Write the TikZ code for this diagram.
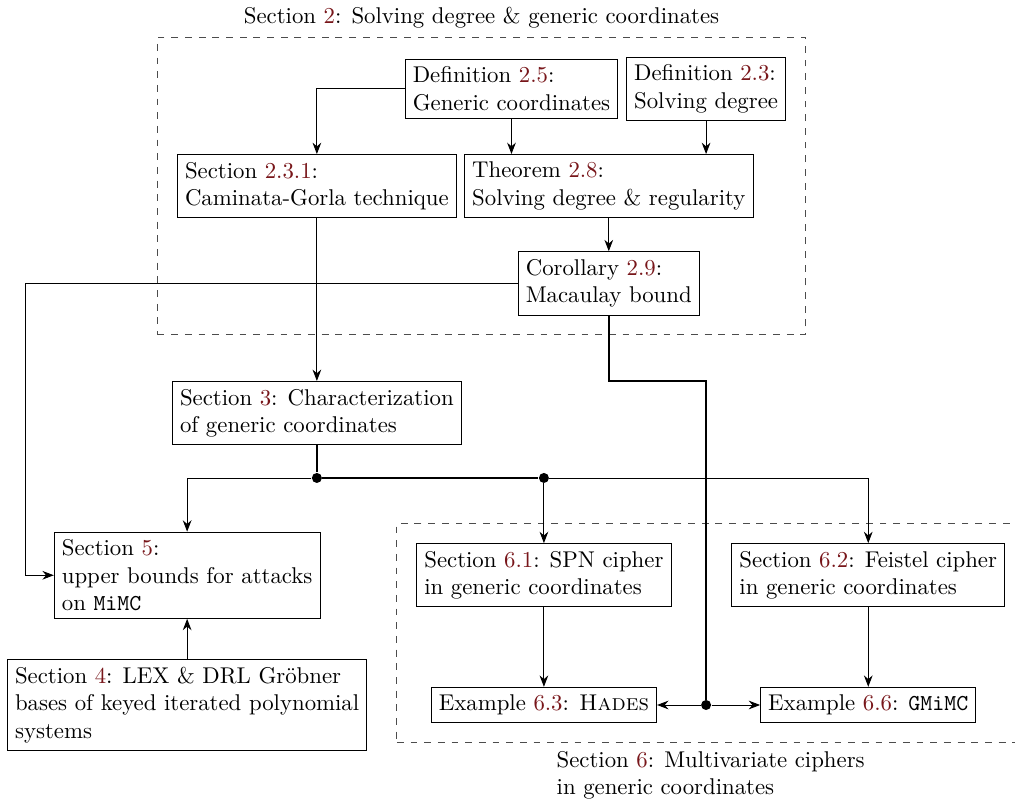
\documentclass[tikz,border=0pt]{standalone}
\usepackage{xcolor}
\usepackage{tikz}
\usetikzlibrary{arrows.meta, positioning, fit}
\definecolor{refred}{RGB}{120,22,26}
\newcommand{\refno}[1]{\textcolor{refred}{#1}}
\tikzset{
  box/.style={
    rectangle, draw=black, align=left, line width=0.4pt
  },
  group/.style={
    rectangle, draw=black!70, dashed, inner sep=3mm
  },
  arrow/.style={-{Stealth[length=5pt,width=3.8pt]}, draw=black},
  trunk/.style={thick, draw=black},
  dot/.style={circle, fill=black, inner sep=0pt, minimum size=4.4pt},
}

\begin{document}
\begin{tikzpicture}
    \useasboundingbox (-4.885,2.868) rectangle (10.762,-9.465);
    \clip (-4.885,2.868) rectangle (10.762,-9.465);

    %% Solving degree part
    \node[box] (sec231) at (0,0) {Section \refno{2.3.1}:\\Caminata-Gorla technique};
    \node[box] (thm28) at (4.5,0) {Theorem \refno{2.8}:\\Solving degree \& regularity};
    \node[box] (def25) at (3,1.5) {Definition \refno{2.5}:\\Generic coordinates};
    \node[box] (def23) at (6,1.5) {Definition \refno{2.3}:\\Solving degree};
    \node[box] (cor29) at (4.5,-1.5) {Corollary \refno{2.9}:\\Macaulay bound};

    %% Characterization and attacks
    \node[box] (sec3) at (0,-3.5) {Section \refno{3}: Characterization\\of generic coordinates};
    \node[box] (sec5) at (-2,-6) {Section \refno{5}:\\upper bounds for attacks\\on \texttt{MiMC}};
    \node[box] (sec4) at (-2,-8) {Section \refno{4}: LEX \& DRL Gröbner\\bases of keyed iterated polynomial\\systems};

    %% Ciphers part
    \node[box] (sec61) at (3.5,-6) {Section \refno{6.1}: SPN cipher\\in generic coordinates};
    \node[box] (sec62) at (8.5,-6) {Section \refno{6.2}: Feistel cipher\\in generic coordinates};
    \node[box] (ex63) at (3.5,-8) {Example \refno{6.3}: \textsc{Hades}};
    \node[box] (ex66) at (8.5,-8) {Example \refno{6.6}: \texttt{GMiMC}};

    %% Junctions
    \node[dot] (j1) at (0,-4.5) {};
    \node[dot] (j2) at (3.5,-4.5) {};
    \node[dot] (j3) at (6,-8) {};
    \coordinate (lft) at (-4.5,-1.5);
    \coordinate (crn) at (6,-3);

    %% Groups
    \node[group, fit=(def25)(def23)(sec231)(thm28)(cor29),
      label={above:{Section \refno{2}: Solving degree \& generic coordinates}}] (grp2) {};
    \node[group, fit=(sec61)(sec62)(ex63)(ex66),
      label={[align=left]below:{Section \refno{6}: Multivariate ciphers\\in generic coordinates}}] (grp6) {};

    %% Arrows
    \draw[arrow] (def25) -| (sec231);
    \draw[arrow] (def25) -- (def25 |- thm28.north);
    \draw[arrow] (def23) -- (def23 |- thm28.north);
    \draw[arrow] (thm28) -- (cor29);
    \draw[arrow] (sec231) -- (sec3);
    \draw[arrow] (cor29) -- (lft) |- (sec5);
    \draw[arrow] (sec4) -- (sec5);

    \draw[trunk] (sec3) -- (j1) -- (j2);
    \draw[arrow] (j1) -| (sec5);
    \draw[arrow] (j2) -- (sec61);
    \draw[arrow] (j2) -| (sec62);
    \draw[arrow] (sec61) -- (ex63);
    \draw[arrow] (sec62) -- (ex66);

    \draw[trunk] (cor29) |- (crn) -- (j3);
    \draw[arrow] (j3) -- (ex63);
    \draw[arrow] (j3) -- (ex66);

\end{tikzpicture}
\end{document}
